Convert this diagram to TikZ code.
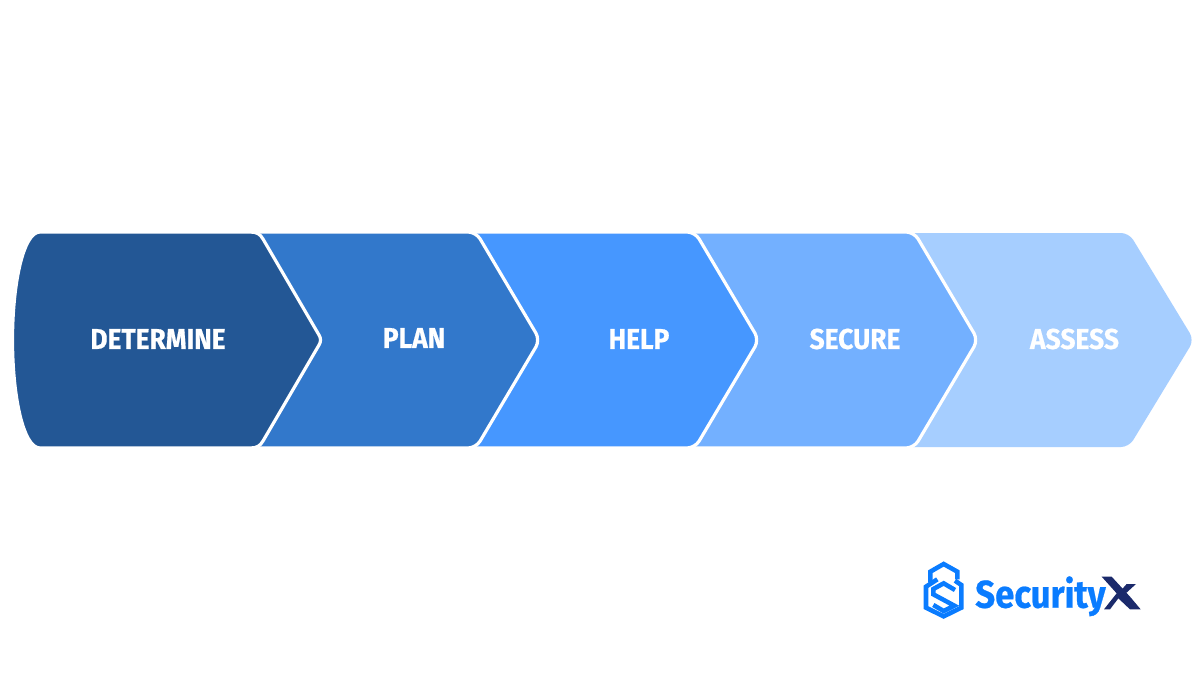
\documentclass[tikz,border=0pt]{standalone}
\usepackage{fontspec}
\usepackage{graphicx}
\setmainfont{Fira Sans}
\newfontfamily\labf[BoldFeatures={FakeBold=0.6}]{Fira Sans}
\definecolor{cA}{HTML}{235795}
\definecolor{cB}{HTML}{3278CB}
\definecolor{cC}{HTML}{4697FF}
\definecolor{cD}{HTML}{73B0FF}
\definecolor{cE}{HTML}{A6CEFF}
\definecolor{logoblue}{HTML}{0A7CFF}
\definecolor{logonavy}{HTML}{1B2A6B}
\newcommand{\lbl}[1]{\scalebox{0.92}[1]{#1}}
\tikzset{
  chev/.style={draw=white,line width=2.4pt,rounded corners=6pt},
  lab/.style={text=white,font=\labf\bfseries\fontsize{21.5}{21.5}\selectfont,inner sep=0pt,anchor=center},
  logoline/.style={draw=logoblue,line width=3.4pt,line join=miter}
}
\begin{document}
\begin{tikzpicture}[x=0.75pt,y=-0.75pt]
\useasboundingbox (0,0) rectangle (1200,675);
\fill[white] (0,0) rectangle (1200,675);
% chevrons, last first
\fill[cE,rounded corners=6pt] (905,233) -- (1129,233) -- (1194,340) -- (1129,447) -- (905,447) -- cycle;
\path[chev,fill=cD] (685,232) -- (914,232) -- (978,340) -- (914,448) -- (685,448) -- cycle;
\path[chev,fill=cC] (465,232) -- (695,232) -- (759,340) -- (695,448) -- (465,448) -- cycle;
\path[chev,fill=cB] (245,232) -- (476,232) -- (540,340) -- (476,448) -- (245,448) -- cycle;
\path[chev,fill=cA,rounded corners=0pt] (40,232) -- (250,232) .. controls (257,232) and (260,234) .. (263,239)
  -- (319,335) .. controls (321,338) and (321,342) .. (319,345)
  -- (263,441) .. controls (260,446) and (257,448) .. (250,448) -- (40,448)
  .. controls (23,448) and (12.5,395) .. (12.5,340) .. controls (12.5,285) and (23,232) .. (40,232) -- cycle;
% labels
\node[lab] (determine) at (158,339) {\lbl{DETERMINE}};
\node[lab] (plan) at (414,338) {\lbl{PLAN}};
\node[lab] (help) at (639,339) {\lbl{HELP}};
\node[lab] (secure) at (855,339) {\lbl{SECURE}};
\node[lab] (assess) at (1074.5,339) {\lbl{ASSESS}};
% logo
\begin{scope}[shift={(900,540)},x=0.25pt,y=-0.25pt]
\draw[logoline] (91,128) -- (91,95) -- (131,72) -- (172,95) -- (172,118);
\draw[logoline] (165,122) -- (184,135) -- (184,203) -- (131,229) -- (78,203) -- (78,140) -- (112,118);
\draw[logoline] (165,150) -- (131,130) -- (100,147) -- (100,163) -- (163,197) -- (131,213) -- (100,195);
\fill[logonavy] (605,110) -- (635,110) -- (690,170) -- (722,208) -- (690,208) -- (655,175) -- (630,208) -- (612,208) -- (650,160) -- cycle;
\fill[logonavy] (680,132) -- (708,132) -- (672,165) -- (662,152) -- cycle;
\end{scope}
\node[font=\labf\bfseries\fontsize{29}{29}\selectfont,text=logoblue,inner sep=0pt,anchor=base west] (brand) at (975,607.7) {\scalebox{0.9}[1]{Security}};
\end{tikzpicture}
\end{document}
